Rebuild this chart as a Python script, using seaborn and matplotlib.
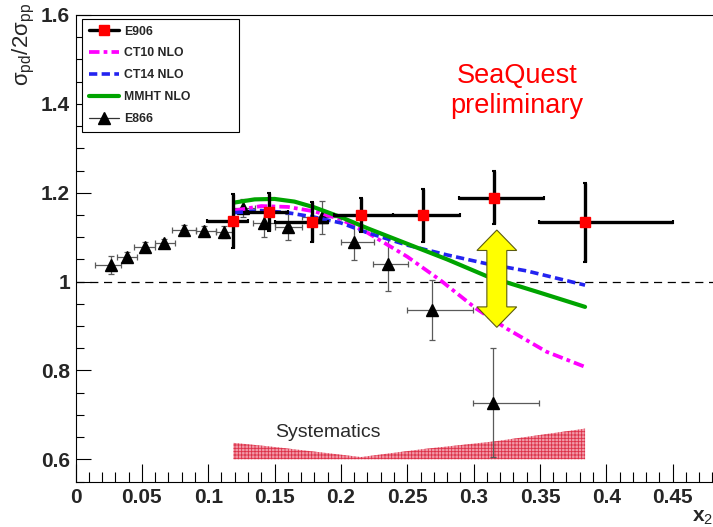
import matplotlib
matplotlib.use("Agg")
import matplotlib.pyplot as plt
from matplotlib.lines import Line2D
from matplotlib.patches import Polygon
from matplotlib.ticker import MultipleLocator, FuncFormatter
import numpy as np
import seaborn as sns

# ---- E906 (SeaQuest) ratio points ----
e906_x = [0.119, 0.146, 0.178, 0.215, 0.262, 0.315, 0.384]
e906_y = [1.136, 1.157, 1.133, 1.149, 1.149, 1.189, 1.133]
e906_yerr = [0.060, 0.043, 0.045, 0.038, 0.060, 0.059, 0.088]
e906_xlo = [0.099, 0.130, 0.150, 0.195, 0.2395, 0.289, 0.349]
e906_xhi = [0.130, 0.160, 0.190, 0.2395, 0.290, 0.353, 0.4505]

# ---- E866 ratio points ----
e866_x = [0.0265, 0.0386, 0.0524, 0.0667, 0.082, 0.097, 0.1119, 0.1265,
          0.142, 0.1604, 0.186, 0.2099, 0.2357, 0.2684, 0.3149]
e866_y = [1.037, 1.0556, 1.078, 1.0858, 1.1158, 1.114, 1.112, 1.165,
          1.131, 1.123, 1.145, 1.089, 1.0385, 0.9356, 0.7277]
e866_yerr = [0.020, 0.012, 0.010, 0.010, 0.012, 0.012, 0.014, 0.020,
             0.030, 0.030, 0.037, 0.040, 0.060, 0.068, 0.122]
e866_xlo = [0.015, 0.031, 0.044, 0.060, 0.073, 0.091, 0.106, 0.119,
            0.134, 0.150, 0.171, 0.200, 0.2244, 0.2496, 0.2998]
e866_xhi = [0.034, 0.046, 0.060, 0.075, 0.091, 0.106, 0.119, 0.135,
            0.150, 0.171, 0.200, 0.225, 0.2508, 0.2998, 0.3495]

# ---- NLO predictions ----
ct10_x = [0.12, 0.14, 0.16, 0.18, 0.20, 0.22, 0.25, 0.275, 0.302, 0.325, 0.355, 0.384]
ct10_y = [1.160, 1.170, 1.168, 1.158, 1.140, 1.110, 1.056, 1.003, 0.939, 0.894, 0.842, 0.808]

ct14_x = [0.12, 0.14, 0.16, 0.18, 0.20, 0.22, 0.25, 0.28, 0.31, 0.34, 0.384]
ct14_y = [1.155, 1.160, 1.155, 1.145, 1.132, 1.110, 1.082, 1.060, 1.040, 1.024, 0.992]

mmht_x = [0.12, 0.135, 0.15, 0.165, 0.18, 0.20, 0.22, 0.25, 0.28, 0.31, 0.35, 0.384]
mmht_y = [1.178, 1.185, 1.186, 1.180, 1.167, 1.145, 1.120, 1.085, 1.050, 1.012, 0.975, 0.943]

# ---- systematic uncertainty band ----
sys_x = e906_x
sys_top = [0.637, 0.629, 0.618, 0.605, 0.623, 0.640, 0.669]
sys_base = 0.60

# ---- double arrow marking the spread of predictions ----
arrow_x = 0.3175
arrow_lo = 0.897
arrow_hi = 1.116

sns.set_theme(style="white")
plt.rcParams["font.family"] = ["Liberation Sans", "DejaVu Sans"]
plt.rcParams["mathtext.fontset"] = "custom"
plt.rcParams["mathtext.rm"] = "Liberation Sans"
plt.rcParams["mathtext.it"] = "Liberation Sans:italic"
plt.rcParams["mathtext.bf"] = "Liberation Sans:bold"
plt.rcParams["hatch.linewidth"] = 0.6

W, H = 713, 527
fig = plt.figure(figsize=(W / 100, H / 100), dpi=100)
fig.patch.set_facecolor("white")
x0, x1, ytop, ybot = 75.5, 739.0, 15.0, 481.5
ax = fig.add_axes([x0 / W, (H - ybot) / H, (x1 - x0) / W, (ybot - ytop) / H])
ax.set_facecolor("white")
ax.set_xlim(0, 0.5)
ax.set_ylim(0.55, 1.6)

for s in ax.spines.values():
    s.set_color("black")
    s.set_linewidth(0.8)

# reference line at unity
ax.axhline(1.0, color="black", lw=0.9, ls=(0, (6.5, 4.5)), zorder=1)

# systematics band
ax.fill_between(sys_x, sys_base, sys_top, facecolor="#f29aa8", edgecolor="#dc3048",
                hatch="+++++", linewidth=0, zorder=1)

# E866
e866_x_arr = np.array(e866_x)
ax.errorbar(e866_x, e866_y, yerr=e866_yerr,
            xerr=[e866_x_arr - np.array(e866_xlo), np.array(e866_xhi) - e866_x_arr],
            fmt="^", color="black", ms=8, ecolor="#5a5a5a", elinewidth=0.9,
            capsize=2, capthick=0.9, zorder=2)

# NLO curves
ct10_style = dict(color="#ff00ff", lw=2.7, linestyle=(0, (2.8, 1.1, 1.0, 1.1)))
ct14_style = dict(color="#2323f0", lw=2.6, linestyle=(0, (2.3, 1.2)))
mmht_style = dict(color="#00a400", lw=3.0, linestyle="-")
sns.lineplot(x=ct10_x, y=ct10_y, ax=ax, zorder=3, **ct10_style)
sns.lineplot(x=ct14_x, y=ct14_y, ax=ax, zorder=3, **ct14_style)
sns.lineplot(x=mmht_x, y=mmht_y, ax=ax, zorder=3, **mmht_style)

# E906
e906_x_arr = np.array(e906_x)
ax.errorbar(e906_x, e906_y, yerr=e906_yerr,
            xerr=[e906_x_arr - np.array(e906_xlo), np.array(e906_xhi) - e906_x_arr],
            fmt="s", mfc="#ff0000", mec="#ff0000", ms=7.7, ecolor="black",
            elinewidth=2.4, capsize=1.2, capthick=1.5, zorder=5)

# yellow double arrow
shaft_hw, head_hw, head_len = 0.0075, 0.015, 0.046
arrow_pts = [
    (arrow_x, arrow_hi),
    (arrow_x + head_hw, arrow_hi - head_len),
    (arrow_x + shaft_hw, arrow_hi - head_len),
    (arrow_x + shaft_hw, arrow_lo + head_len),
    (arrow_x + head_hw, arrow_lo + head_len),
    (arrow_x, arrow_lo),
    (arrow_x - head_hw, arrow_lo + head_len),
    (arrow_x - shaft_hw, arrow_lo + head_len),
    (arrow_x - shaft_hw, arrow_hi - head_len),
    (arrow_x - head_hw, arrow_hi - head_len),
]
ax.add_patch(Polygon(arrow_pts, closed=True, facecolor="#ffff00", edgecolor="#5c5c10",
                     lw=0.8, zorder=6))

# annotations
ax.text(0.3325, 1.446, "SeaQuest", color="#ff0000", fontsize=19.5, ha="center", va="baseline")
ax.text(0.3325, 1.380, "preliminary", color="#ff0000", fontsize=19.5, ha="center", va="baseline")
ax.text(0.1503, 0.6495, "Systematics", color="#2a2a2a", fontsize=14, ha="left", va="baseline")

# axes ticks
ax.xaxis.set_major_locator(MultipleLocator(0.05))
ax.xaxis.set_minor_locator(MultipleLocator(0.01))
ax.yaxis.set_major_locator(MultipleLocator(0.2))
ax.yaxis.set_minor_locator(MultipleLocator(0.05))
ax.xaxis.set_major_formatter(FuncFormatter(lambda v, p: "%g" % round(v, 3) if v < 0.47 else ""))
ax.yaxis.set_major_formatter(FuncFormatter(lambda v, p: "%g" % round(v, 3)))
ax.tick_params(which="both", direction="in", top=False, right=False, bottom=True, left=True,
               color="black", width=0.8)
ax.tick_params(axis="x", which="major", length=13, pad=5, labelsize=15)
ax.tick_params(axis="x", which="minor", length=7)
ax.tick_params(axis="y", which="major", length=11, pad=4, labelsize=15)
ax.tick_params(axis="y", which="minor", length=6)
for lab in ax.get_xticklabels() + ax.get_yticklabels():
    lab.set_fontweight("bold")

# axis titles
fig.text(692 / W, 1 - 522 / H, "x$_2$", fontsize=15, fontweight="bold", ha="left", va="baseline")
fig.text(24 / W, 1 - 3 / H, r"$\mathregular{\sigma_{pd}/2\sigma_{pp}}$", rotation=90,
         ha="center", va="top", fontsize=16)

# legend
handles = [
    Line2D([], [], color="black", lw=2.4, marker="s", ms=7.7, mfc="#ff0000", mec="#ff0000"),
    Line2D([], [], **ct10_style),
    Line2D([], [], **ct14_style),
    Line2D([], [], **mmht_style),
    Line2D([], [], color="#333333", lw=0.9, marker="^", ms=8, mfc="black", mec="black"),
]
labels = ["E906", "CT10 NLO", "CT14 NLO", "MMHT NLO", "E866"]
leg_w = (239 - 82) / (x1 - x0)
leg_h = (130 - 19) / (ybot - ytop)
leg_left = (82 - x0) / (x1 - x0)
leg_top = (ybot - 19) / (ybot - ytop)
leg = ax.legend(handles, labels, loc="upper left",
                bbox_to_anchor=(leg_left, leg_top - leg_h, leg_w, leg_h), mode="expand",
                borderaxespad=0, frameon=True, fancybox=False, edgecolor="black",
                framealpha=1, prop={"size": 8.8, "weight": "bold"}, handlelength=2.45,
                handletextpad=0.45, labelspacing=0.8, borderpad=0.55)
leg.get_frame().set_linewidth(0.8)
leg.set_zorder(10)

fig.savefig("out.png", dpi=100, facecolor="white")
